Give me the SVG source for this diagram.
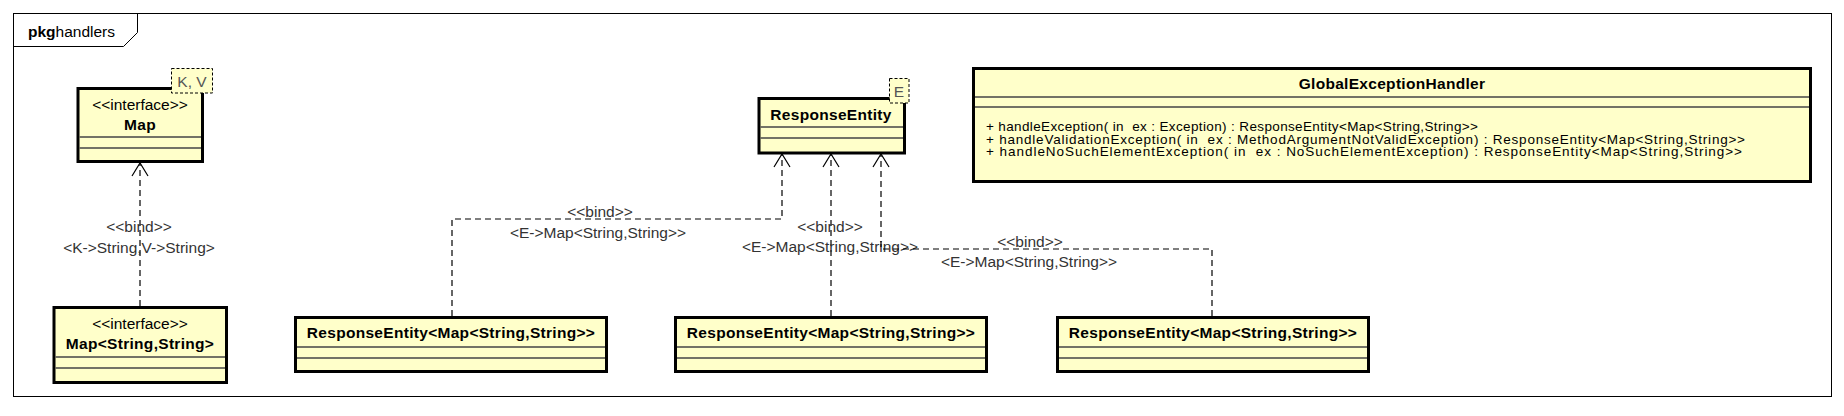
<svg xmlns="http://www.w3.org/2000/svg" width="1844" height="416" viewBox="0 0 1844 416">
<style>
text{font-family:"Liberation Sans",Arial,sans-serif;fill:#000}
.cls{fill:#FFFFCA;stroke:#000;stroke-width:3}
.sep{stroke:#444;stroke-width:1.3}
.tpl{fill:#FFFFCA;stroke:#000;stroke-width:1;stroke-dasharray:3,2}
.tplt{font-size:15.5px;fill:#555;text-anchor:middle}
.name{font-size:15.5px;font-weight:bold;text-anchor:middle;letter-spacing:0.3px}
.ster{font-size:15.5px;text-anchor:middle}
.meth{font-size:13.5px}
.dep{fill:none;stroke:#000;stroke-width:1.2;stroke-dasharray:6,4}
.arr{fill:none;stroke:#000;stroke-width:1.2}
.lbl{font-size:15.5px;fill:#333;text-anchor:middle}
</style>
<rect x="0" y="0" width="1844" height="416" fill="#fff"/>
<g id="frame">
<rect x="13.5" y="13.5" width="1818" height="383" fill="none" stroke="#000" stroke-width="1"/>
<polyline points="13.5,46.5 123.5,46.5 137.5,32.5 137.5,13.5" fill="none" stroke="#000" stroke-width="1"/>
<text x="28" y="37" style="font-size:15.5px"><tspan font-weight="bold">pkg</tspan>handlers</text>
</g>
<g id="connectors">
<path class="dep" d="M140,306 L140,164"/>
<path class="arr" d="M132,176 L140,163 L148,176"/>
<text class="lbl" x="139" y="232">&lt;&lt;bind&gt;&gt;</text>
<text class="lbl" x="139" y="253">&lt;K-&gt;String,V-&gt;String&gt;</text>
<path class="dep" d="M452,316 L452,219 L782,219 L782,155"/>
<path class="arr" d="M774,167 L782,154 L790,167"/>
<text class="lbl" x="600" y="217">&lt;&lt;bind&gt;&gt;</text>
<text class="lbl" x="598" y="238">&lt;E-&gt;Map&lt;String,String&gt;&gt;</text>
<path class="dep" d="M831,316 L831,155"/>
<path class="arr" d="M823,167 L831,154 L839,167"/>
<text class="lbl" x="830" y="232">&lt;&lt;bind&gt;&gt;</text>
<text class="lbl" x="830" y="252">&lt;E-&gt;Map&lt;String,String&gt;&gt;</text>
<path class="dep" d="M1212,316 L1212,249 L881,249 L881,155"/>
<path class="arr" d="M873,167 L881,154 L889,167"/>
<text class="lbl" x="1030" y="247">&lt;&lt;bind&gt;&gt;</text>
<text class="lbl" x="1029" y="267">&lt;E-&gt;Map&lt;String,String&gt;&gt;</text>
</g>
<g id="Map">
<rect class="cls" x="78" y="88.5" width="124.5" height="73"/>
<line class="sep" x1="79.5" y1="137" x2="201" y2="137"/>
<line class="sep" x1="79.5" y1="148" x2="201" y2="148"/>
<text class="ster" x="140" y="110">&lt;&lt;interface&gt;&gt;</text>
<text class="name" x="140" y="130">Map</text>
<rect class="tpl" x="171.5" y="68.5" width="41" height="24.5"/>
<text class="tplt" x="192" y="86.5">K, V</text>
</g>
<g id="MapStringString">
<rect class="cls" x="54" y="307.5" width="172.5" height="75"/>
<line class="sep" x1="55.5" y1="357" x2="225" y2="357"/>
<line class="sep" x1="55.5" y1="368" x2="225" y2="368"/>
<text class="ster" x="140" y="329">&lt;&lt;interface&gt;&gt;</text>
<text class="name" x="140" y="349">Map&lt;String,String&gt;</text>
</g>
<g id="ResponseEntity">
<rect class="cls" x="759" y="98.5" width="145.5" height="54.5"/>
<line class="sep" x1="760.5" y1="127" x2="903" y2="127"/>
<line class="sep" x1="760.5" y1="138" x2="903" y2="138"/>
<text class="name" x="831" y="120">ResponseEntity</text>
<rect class="tpl" x="889.5" y="78.5" width="19.5" height="24.5"/>
<text class="tplt" x="899" y="96.5">E</text>
</g>
<g id="RE1">
<rect class="cls" x="295.5" y="317.5" width="311" height="54"/>
<line class="sep" x1="297" y1="347" x2="605" y2="347"/>
<line class="sep" x1="297" y1="358" x2="605" y2="358"/>
<text class="name" x="451" y="338">ResponseEntity&lt;Map&lt;String,String&gt;&gt;</text>
</g>
<g id="RE2">
<rect class="cls" x="675.5" y="317.5" width="311" height="54"/>
<line class="sep" x1="677" y1="347" x2="985" y2="347"/>
<line class="sep" x1="677" y1="358" x2="985" y2="358"/>
<text class="name" x="831" y="338">ResponseEntity&lt;Map&lt;String,String&gt;&gt;</text>
</g>
<g id="RE3">
<rect class="cls" x="1057.5" y="317.5" width="311" height="54"/>
<line class="sep" x1="1059" y1="347" x2="1367" y2="347"/>
<line class="sep" x1="1059" y1="358" x2="1367" y2="358"/>
<text class="name" x="1213" y="338">ResponseEntity&lt;Map&lt;String,String&gt;&gt;</text>
</g>
<g id="GlobalExceptionHandler">
<rect class="cls" x="973.5" y="68.5" width="837" height="113"/>
<line class="sep" x1="975" y1="97" x2="1809" y2="97"/>
<line class="sep" x1="975" y1="107" x2="1809" y2="107"/>
<text class="name" x="1392" y="89">GlobalExceptionHandler</text>
<text class="meth" x="986" y="131" xml:space="preserve" textLength="492" lengthAdjust="spacing">+ handleException( in  ex : Exception) : ResponseEntity&lt;Map&lt;String,String&gt;&gt;</text>
<text class="meth" x="986" y="143.5" xml:space="preserve" textLength="759" lengthAdjust="spacing">+ handleValidationException( in  ex : MethodArgumentNotValidException) : ResponseEntity&lt;Map&lt;String,String&gt;&gt;</text>
<text class="meth" x="986" y="156" xml:space="preserve" textLength="756" lengthAdjust="spacing">+ handleNoSuchElementException( in  ex : NoSuchElementException) : ResponseEntity&lt;Map&lt;String,String&gt;&gt;</text>
</g>
</svg>
